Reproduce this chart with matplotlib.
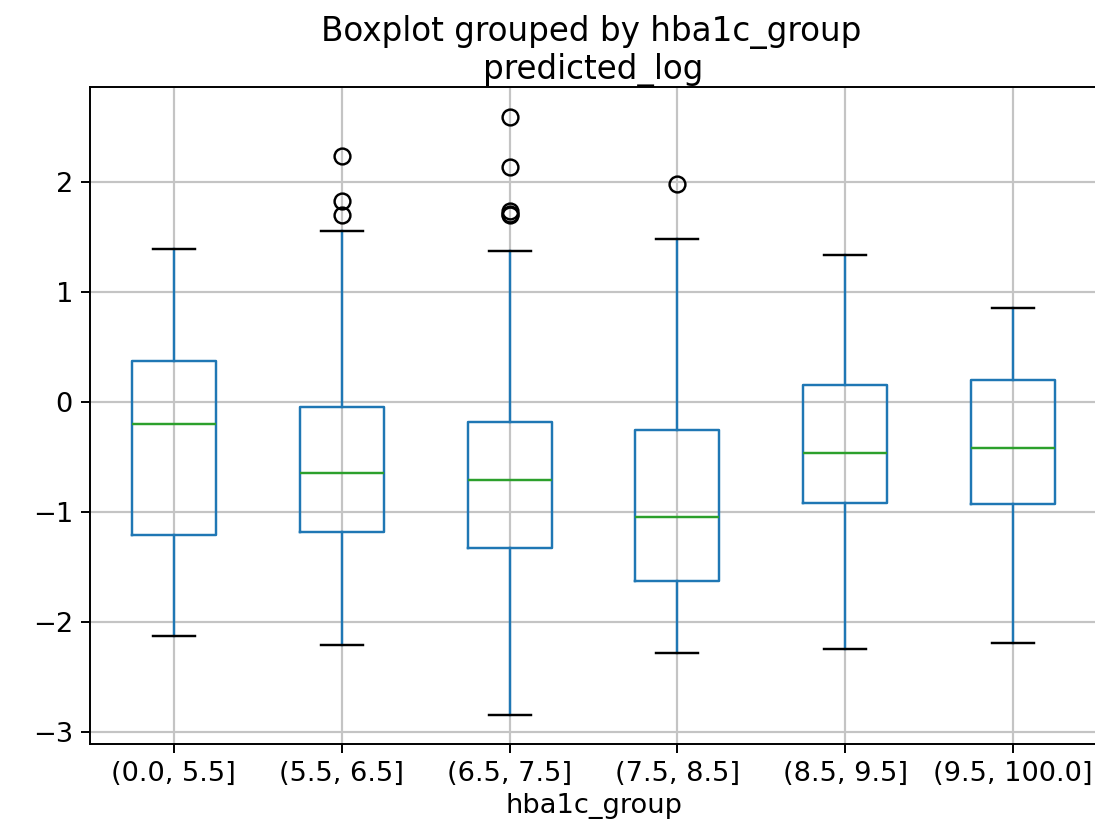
import matplotlib
matplotlib.use("Agg")

import matplotlib.pyplot as plt

# ------------------------------------------------------------
# BOX STATISTICS PER HBA1C GROUP (predicted_log)
# ------------------------------------------------------------
groups = ["(0.0, 5.5]", "(5.5, 6.5]", "(6.5, 7.5]", "(7.5, 8.5]", "(8.5, 9.5]", "(9.5, 100.0]"]
whisker_low = [-2.13, -2.21, -2.85, -2.28, -2.25, -2.19]
q1 = [-1.21, -1.18, -1.33, -1.63, -0.92, -0.93]
median = [-0.20, -0.65, -0.71, -1.05, -0.47, -0.42]
q3 = [0.37, -0.05, -0.18, -0.26, 0.15, 0.20]
whisker_high = [1.39, 1.55, 1.37, 1.48, 1.33, 0.85]
outliers = [
    [],
    [2.23, 1.82, 1.70],
    [2.59, 2.13, 1.73, 1.71, 1.70],
    [1.98],
    [],
    [],
]

s = 1.75   # scale for line widths
fs = 1.96  # scale for font sizes

stats = []
for i, name in enumerate(groups):
    stats.append({
        "label": name,
        "whislo": whisker_low[i],
        "q1": q1[i],
        "med": median[i],
        "q3": q3[i],
        "whishi": whisker_high[i],
        "fliers": outliers[i],
    })

fig = plt.figure(figsize=(10.95, 8.21), dpi=100)
ax = fig.add_axes([90 / 1095, 1 - 744 / 821, 1007 / 1095, (744 - 87) / 821])

ax.bxp(
    stats,
    widths=0.5,
    boxprops=dict(color="C0", linewidth=s),
    whiskerprops=dict(color="C0", linewidth=s),
    medianprops=dict(color="C2", linewidth=s),
    capprops=dict(color="black", linewidth=s),
    flierprops=dict(marker="o", markerfacecolor="none", markeredgecolor="black",
                    markersize=6.5 * s, markeredgewidth=s),
)

ax.grid(True, color="#c4c4c4", linewidth=0.9 * s)
ax.set_axisbelow(True)
ax.set_ylim(-3.11, 2.86)
ax.set_yticks([-3, -2, -1, 0, 1, 2])
ax.tick_params(labelsize=10 * fs, width=0.8 * s, length=3.5 * s, pad=3.5 * s)
for sp in ax.spines.values():
    sp.set_linewidth(0.8 * s)

ax.set_xlabel("hba1c_group", fontsize=10 * fs, labelpad=4)
ax.set_title("predicted_log", fontsize=12 * fs, pad=2)
fig.suptitle("Boxplot grouped by hba1c_group", fontsize=12 * fs,
             x=591 / 1095, y=1 - 32 / 821, va="center")

fig.savefig("out.png", dpi=100)
